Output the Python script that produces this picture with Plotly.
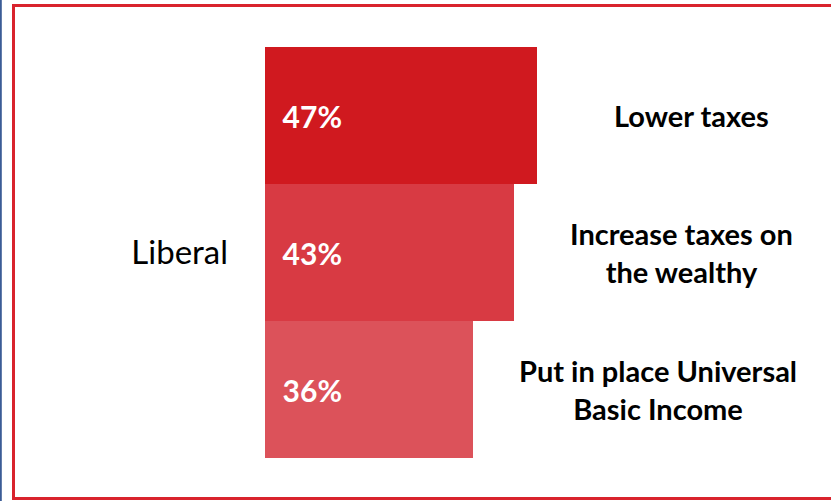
import plotly.graph_objects as go

group = ["Liberal"]
options = ["Lower taxes", "Increase taxes on<br>the wealthy", "Put in place Universal<br>Basic Income"]
values = [47, 43, 36]
colors = ["#D0191F", "#D83A43", "#DC525A"]

W, H = 831, 501
FONT = "Lato"
PX_PER_PCT = 5.78

fig = go.Figure()
for name, v, c in zip(options, values, colors):
    fig.add_trace(go.Bar(
        y=group, x=[v], orientation="h", name=name,
        marker=dict(color=c, line=dict(width=0)),
        text=[f"\u00a0\u00a0{v}%"], textposition="inside", insidetextanchor="start",
        textfont=dict(family=FONT, size=30, color="white", weight="bold"),
        cliponaxis=False, hoverinfo="skip",
    ))

# right-hand option labels, one per bar
label_x = [691, 681, 658]
offsets = [-1/3, 0, 1/3]
annotations = []
for name, lx, off in zip(options, label_x, offsets):
    annotations.append(dict(
        x=lx / W, xref="paper", y=off, yref="y",
        text=f"<b>{name}</b>", showarrow=False, xanchor="center", yanchor="middle",
        font=dict(family=FONT, size=29, color="black"), align="center",
    ))

shapes = [
    # blue line at far left
    dict(type="line", xref="paper", yref="paper", x0=0.8 / W, x1=0.8 / W, y0=0, y1=1,
         line=dict(color="#3B5C96", width=2)),
    # red frame (right side extends past the picture)
    dict(type="rect", xref="paper", yref="paper", x0=13.5 / W, x1=1.05,
         y0=1 - 498.5 / H, y1=1 - 5.5 / H,
         line=dict(color="#D9232D", width=3), fillcolor="rgba(0,0,0,0)"),
]

fig.update_layout(
    width=W, height=H,
    margin=dict(l=0, r=0, t=0, b=0),
    paper_bgcolor="white", plot_bgcolor="rgba(0,0,0,0)",
    barmode="group", bargap=0, bargroupgap=0,
    showlegend=False,
    xaxis=dict(domain=[265 / W, 1], range=[0, 566 / PX_PER_PCT], visible=False, fixedrange=True),
    yaxis=dict(type="category", range=[248.5 / 411, -252.5 / 411], showgrid=False,
               zeroline=False, showline=False, ticks="", ticklabelstandoff=36,
               tickfont=dict(family=FONT, size=33, color="black"), automargin=False,
               fixedrange=True),
    annotations=annotations,
    shapes=shapes,
    uniformtext=dict(minsize=8, mode="show"),
)

fig.write_html(
    "out.html",
    config={"displayModeBar": False, "staticPlot": True},
    post_script="document.body.style.margin='0';document.body.style.padding='0';",
)
